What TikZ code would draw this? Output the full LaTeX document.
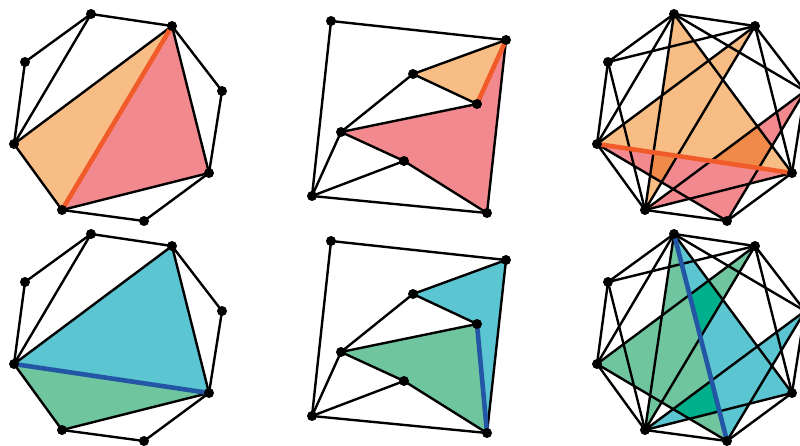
\documentclass[tikz,border=0pt]{standalone}
\definecolor{orF}{HTML}{F8BD84}
\definecolor{rdF}{HTML}{F2898E}
\definecolor{ovO}{HTML}{F08A4B}
\definecolor{flO}{HTML}{F15A29}
\definecolor{cyF}{HTML}{5BC5D1}
\definecolor{grF}{HTML}{6FC59E}
\definecolor{ovT}{HTML}{00B08C}
\definecolor{flB}{HTML}{2356A5}
\begin{document}
\begin{tikzpicture}[x=1pt,y=-1pt,
  edge/.style={line width=2.4pt,line join=round,line cap=round,black},
  flipo/.style={line width=4.6pt,line cap=round,flO},
  flipb/.style={line width=4.6pt,line cap=round,flB},
  dotv/.style={fill=black}]
\useasboundingbox (0,0) rectangle (800,446);
\clip (0,0) rectangle (800,446);
% octagon vertex macro
\newcommand\octpts[1]{%
  \coordinate (#1A) at (91,14);
  \coordinate (#1B) at (172,26);
  \coordinate (#1C) at (222,91);
  \coordinate (#1D) at (209,173);
  \coordinate (#1E) at (144,221);
  \coordinate (#1F) at (62,210);
  \coordinate (#1G) at (14,144);
  \coordinate (#1H) at (25,62);}
\newcommand\quadpts[1]{%
  \coordinate (#11) at (331,21);
  \coordinate (#12) at (506,40);
  \coordinate (#13) at (413,74);
  \coordinate (#14) at (477,104);
  \coordinate (#15) at (341,132);
  \coordinate (#16) at (404,161);
  \coordinate (#17) at (312,196);
  \coordinate (#18) at (487,213);}
% ---------- Panel 1: triangulation, top ----------
\begin{scope}
\octpts{t}
\fill[orF] (tG)--(tB)--(tF)--cycle;
\fill[rdF] (tB)--(tD)--(tF)--cycle;
\draw[edge] (tA)--(tB)--(tC)--(tD)--(tE)--(tF)--(tG)--(tH)--cycle;
\draw[edge] (tA)--(tG) (tG)--(tB) (tB)--(tD) (tD)--(tF);
\draw[flipo] (tB)--(tF);
\foreach \v in {A,B,C,D,E,F,G,H} \fill[dotv] (t\v) circle[radius=5pt];
\end{scope}
% ---------- Panel 4: triangulation, bottom ----------
\begin{scope}[shift={(0,220)}]
\octpts{u}
\fill[cyF] (uG)--(uB)--(uD)--cycle;
\fill[grF] (uG)--(uD)--(uF)--cycle;
\draw[edge] (uA)--(uB)--(uC)--(uD)--(uE)--(uF)--(uG)--(uH)--cycle;
\draw[edge] (uA)--(uG) (uG)--(uB) (uB)--(uD) (uD)--(uF);
\draw[flipb] (uG)--(uD);
\foreach \v in {A,B,C,D,E,F,G,H} \fill[dotv] (u\v) circle[radius=5pt];
\end{scope}
% ---------- Panel 2: pseudotriangulation, top ----------
\begin{scope}
\quadpts{q}
\fill[orF] (q3)--(q2)--(q4)--cycle;
\fill[rdF] (q5)--(q4)--(q2)--(q8)--(q6)--cycle;
\draw[edge] (q1)--(q2)--(q8)--(q7)--cycle;
\draw[edge] (q2)--(q3)--(q4) (q3)--(q5)--(q4) (q5)--(q6)--(q8) (q5)--(q7) (q6)--(q7);
\draw[flipo] (q4)--(q2);
\foreach \v in {1,...,8} \fill[dotv] (q\v) circle[radius=5pt];
\end{scope}
% ---------- Panel 5: pseudotriangulation, bottom ----------
\begin{scope}[shift={(0,220)}]
\quadpts{r}
\fill[cyF] (r3)--(r2)--(r8)--(r4)--cycle;
\fill[grF] (r5)--(r4)--(r8)--(r6)--cycle;
\draw[edge] (r1)--(r2)--(r8)--(r7)--cycle;
\draw[edge] (r2)--(r3)--(r4) (r3)--(r5)--(r4) (r5)--(r6)--(r8) (r5)--(r7) (r6)--(r7);
\draw[flipb] (r4)--(r8);
\foreach \v in {1,...,8} \fill[dotv] (r\v) circle[radius=5pt];
\end{scope}
% ---------- Panel 3: 2-triangulation, top ----------
\begin{scope}[shift={(583,0)}]
\octpts{m}
\fill[orF] (mF)--(mA)--(mD)--(mG)--(mB)--cycle;
\fill[rdF] (mC)--(mE)--(mG)--(mD)--(mF)--cycle;
\begin{scope}
\clip (mF)--(mA)--(mD)--(mG)--(mB)--cycle;
\fill[ovO] (mC)--(mE)--(mG)--(mD)--(mF)--cycle;
\end{scope}
\draw[edge] (mA)--(mB)--(mC)--(mD)--(mE)--(mF)--(mG)--(mH)--cycle;
\draw[edge] (mA)--(mC)--(mE)--(mG)--cycle;
\draw[edge] (mB)--(mD)--(mF)--(mH)--cycle;
\draw[edge] (mF)--(mA)--(mD) (mG)--(mB)--(mF) (mF)--(mC);
\draw[flipo] (mG)--(mD);
\foreach \v in {A,B,C,D,E,F,G,H} \fill[dotv] (m\v) circle[radius=5pt];
\end{scope}
% ---------- Panel 6: 2-triangulation, bottom ----------
\begin{scope}[shift={(583,220)}]
\octpts{n}
\fill[grF] (nA)--(nE)--(nG)--(nB)--(nF)--cycle;
\fill[cyF] (nA)--(nD)--(nF)--(nC)--(nE)--cycle;
\begin{scope}
\clip (nA)--(nE)--(nG)--(nB)--(nF)--cycle;
\fill[ovT] (nA)--(nD)--(nF)--(nC)--(nE)--cycle;
\end{scope}
\draw[edge] (nA)--(nB)--(nC)--(nD)--(nE)--(nF)--(nG)--(nH)--cycle;
\draw[edge] (nA)--(nC)--(nE)--(nG)--cycle;
\draw[edge] (nB)--(nD)--(nF)--(nH)--cycle;
\draw[edge] (nF)--(nA)--(nD) (nG)--(nB)--(nF) (nF)--(nC);
\draw[flipb] (nA)--(nE);
\foreach \v in {A,B,C,D,E,F,G,H} \fill[dotv] (n\v) circle[radius=5pt];
\end{scope}
\end{tikzpicture}
\end{document}
